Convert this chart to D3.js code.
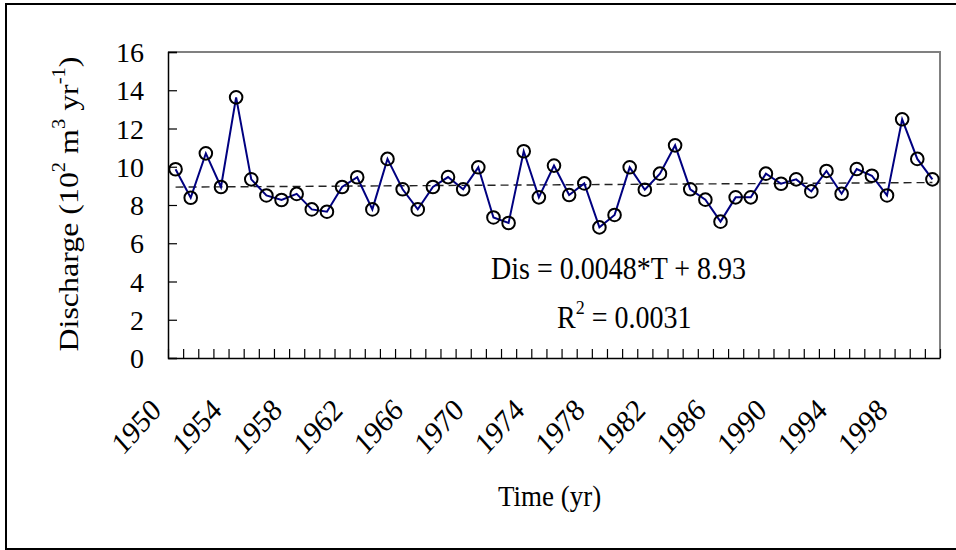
<!DOCTYPE html>
<html>
<head>
<meta charset="utf-8">
<script src="https://cdn.jsdelivr.net/npm/d3@7"></script>
<style>
  html, body { margin: 0; padding: 0; background: #fff; }
  svg { display: block; }
  text { font-family: "Liberation Serif", "Times New Roman", serif; fill: #000; }
</style>
</head>
<body>
<svg id="chart" width="956" height="550"></svg>
<script>
// Annual discharge, 10^2 m^3 yr^-1
const years = d3.range(1950, 2001);
const discharge = [
  9.87, 8.38, 10.70, 8.94, 13.63, 9.34, 8.50, 8.26, 8.58, 7.77,
  7.65, 8.94, 9.45, 7.77, 10.41, 8.82, 7.77, 8.94, 9.46, 8.82,
  9.97, 7.35, 7.06, 10.81, 8.40, 10.06, 8.52, 9.13, 6.83, 7.48,
  9.97, 8.80, 9.64, 11.12, 8.82, 8.28, 7.13, 8.40, 8.40, 9.64,
  9.11, 9.34, 8.71, 9.78, 8.59, 9.88, 9.53, 8.50, 12.48, 10.41,
  9.34
];
const yTicks = [0, 2, 4, 6, 8, 10, 12, 14, 16];
const xLabelYears = d3.range(1950, 2001, 4);
// Linear trend: Dis = slope * T + intercept, T = 1..n
const trendSlope = 0.0048;
const trendIntercept = 8.93;
const equationText = "Dis = 0.0048*T + 8.93";
const r2Value = "0.0031";

const svg = d3.select("#chart");
const plot = { left: 168, right: 940, top: 52, bottom: 358 };

const x = d3.scaleBand().domain(years).range([plot.left, plot.right]).padding(0);
const cx = yr => x(yr) + x.bandwidth() / 2;
const y = d3.scaleLinear().domain([0, 16]).range([plot.bottom, plot.top]);

// outer frame
svg.append("rect")
  .attr("x", 6).attr("y", 4).attr("width", 970).attr("height", 545)
  .attr("fill", "none").attr("stroke", "#000").attr("stroke-width", 2);

// plot area: gray top and right edges
svg.append("path")
  .attr("d", `M${plot.left},${plot.top}H${plot.right}V${plot.bottom}`)
  .attr("fill", "none").attr("stroke", "#808080").attr("stroke-width", 2);

// y axis (ticks pointing inside)
const yAxis = d3.axisRight(y).tickValues(yTicks).tickSize(9).tickFormat("");
const gy = svg.append("g").attr("transform", `translate(${plot.left},0)`).call(yAxis);
gy.select(".domain").attr("stroke", "#000").attr("stroke-width", 1.5);
gy.selectAll(".tick line").attr("stroke", "#000").attr("stroke-width", 1.2);

svg.append("g").selectAll("text").data(yTicks).join("text")
  .attr("x", 144).attr("y", d => y(d) + 10)
  .attr("text-anchor", "end")
  .attr("font-size", 28)
  .text(d => d);

// x axis: category boundaries, ticks pointing inside
const bounds = years.map(yr => x(yr)).concat([plot.right]);
const xb = d3.scaleLinear().domain([plot.left, plot.right]).range([plot.left, plot.right]);
const xAxis = d3.axisTop(xb).tickValues(bounds).tickSize(9).tickFormat("").tickSizeOuter(0);
const gx = svg.append("g").attr("transform", `translate(0,${plot.bottom})`).call(xAxis);
gx.select(".domain").attr("stroke", "#000").attr("stroke-width", 1.5);
gx.selectAll(".tick line").attr("stroke", "#000").attr("stroke-width", 1.2);

// rotated year labels
svg.append("g").selectAll("g").data(xLabelYears).join("g")
  .attr("transform", d => `translate(${cx(d) - 13},412) scale(1,1.12)`)
  .append("text")
  .attr("transform", "rotate(-45)")
  .attr("text-anchor", "end")
  .attr("font-size", 28)
  .text(d => d);

// trend line
const n = years.length;
svg.append("line")
  .attr("x1", cx(years[0])).attr("y1", y(trendSlope * 1 + trendIntercept))
  .attr("x2", cx(years[n - 1])).attr("y2", y(trendSlope * n + trendIntercept))
  .attr("stroke", "#222").attr("stroke-width", 1.4)
  .attr("stroke-dasharray", "8,5");

// data line
const line = d3.line().x((d, i) => cx(years[i])).y(d => y(d));
svg.append("path")
  .datum(discharge)
  .attr("d", line)
  .attr("fill", "none").attr("stroke", "#000080").attr("stroke-width", 2);

// markers
svg.append("g").selectAll("circle").data(discharge).join("circle")
  .attr("cx", (d, i) => cx(years[i]))
  .attr("cy", d => y(d))
  .attr("r", 6.3)
  .attr("fill", "none").attr("stroke", "#000").attr("stroke-width", 2);

// regression annotation
const eq = svg.append("g").attr("transform", "translate(491,279) scale(1,1.1)");
eq.append("text").attr("font-size", 28).text(equationText);
const r2 = svg.append("g").attr("transform", "translate(557,328) scale(1,1.1)");
const r2t = r2.append("text").attr("font-size", 28);
r2t.append("tspan").text("R");
r2t.append("tspan").attr("font-size", 18).attr("dy", -13).text("2");
r2t.append("tspan").attr("dy", 13).text(" = " + r2Value);

// axis titles
const xt = svg.append("g").attr("transform", "translate(498,506) scale(1,1.12)");
xt.append("text").attr("font-size", 27).text("Time (yr)");

const yt = svg.append("g").attr("transform", "translate(78,204) scale(1,1.14)");
const ytt = yt.append("text").attr("transform", "rotate(-90)")
  .attr("text-anchor", "middle").attr("font-size", 28);
ytt.append("tspan").text("Discharge (10");
ytt.append("tspan").attr("font-size", 18).attr("dy", -13).text("2");
ytt.append("tspan").attr("dy", 13).text(" m");
ytt.append("tspan").attr("font-size", 18).attr("dy", -13).text("3");
ytt.append("tspan").attr("dy", 13).text(" yr");
ytt.append("tspan").attr("font-size", 18).attr("dy", -13).text("-1");
ytt.append("tspan").attr("dy", 13).text(")");
</script>
</body>
</html>
